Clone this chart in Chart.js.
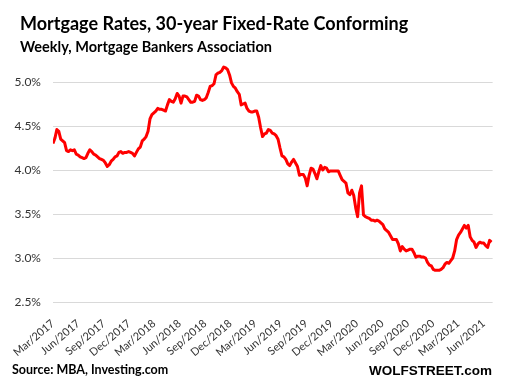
<!DOCTYPE html>
<html><head><meta charset="utf-8">
<script src="https://cdn.jsdelivr.net/npm/chart.js@4"></script>
<style>html,body{margin:0;padding:0;background:#fff;}#wrap{width:507px;height:388px;position:relative;}</style>
</head><body><div id="wrap"><canvas id="c" width="507" height="388"></canvas></div>
<script>
const titleText = 'Mortgage Rates, 30-year Fixed-Rate Conforming';
const subtitleText = 'Weekly, Mortgage Bankers Association';
const sourceText = 'Source: MBA, Investing.com';
const brandText = 'WOLFSTREET.com';

// first weekly observation (day 0 of the x scale)
const firstWeek = '2017-03-01';

// weekly 30-year fixed rate, %
const rates = [
  4.30,4.36,4.46,4.44,4.35,4.33,4.31,4.22,4.21,4.23,
  4.22,4.23,4.18,4.17,4.15,4.14,4.13,4.14,4.19,4.23,
  4.21,4.18,4.17,4.15,4.13,4.12,4.11,4.08,4.04,4.06,
  4.10,4.12,4.15,4.16,4.20,4.21,4.19,4.20,4.20,4.21,
  4.20,4.19,4.16,4.20,4.24,4.26,4.33,4.35,4.38,4.44,
  4.58,4.63,4.65,4.67,4.70,4.69,4.69,4.68,4.67,4.74,
  4.80,4.78,4.77,4.81,4.87,4.84,4.76,4.84,4.84,4.83,
  4.80,4.77,4.77,4.78,4.85,4.84,4.80,4.79,4.80,4.82,
  4.88,4.95,4.96,4.98,5.08,5.10,5.11,5.13,5.17,5.16,
  5.14,5.08,4.99,4.95,4.93,4.89,4.86,4.74,4.75,4.76,
  4.70,4.67,4.66,4.66,4.67,4.67,4.60,4.48,4.38,4.41,
  4.42,4.46,4.45,4.42,4.41,4.39,4.35,4.25,4.16,4.15,
  4.12,4.07,4.05,4.09,4.12,4.08,4.04,3.94,3.95,3.95,
  3.91,3.82,3.94,4.02,4.01,3.96,3.90,3.98,4.05,4.00,
  4.03,4.02,3.98,3.99,3.99,3.99,3.99,3.99,3.94,3.89,
  3.87,3.85,3.74,3.72,3.77,3.71,3.57,3.47,3.74,3.82,
  3.49,3.47,3.46,3.45,3.43,3.43,3.42,3.43,3.42,3.40,
  3.38,3.33,3.31,3.29,3.25,3.21,3.21,3.21,3.16,3.08,
  3.13,3.10,3.08,3.09,3.10,3.10,3.06,3.01,3.02,3.02,
  3.01,3.01,3.00,2.95,2.92,2.91,2.87,2.86,2.86,2.86,
  2.87,2.89,2.93,2.95,2.94,2.97,3.00,3.08,3.21,3.26,
  3.29,3.33,3.37,3.34,3.37,3.24,3.20,3.18,3.12,3.16,
  3.18,3.17,3.17,3.14,3.12,3.20,3.18
];

const tickLabels = ['Mar/2017','Jun/2017','Sep/2017','Dec/2017','Mar/2018','Jun/2018','Sep/2018','Dec/2018',
  'Mar/2019','Jun/2019','Sep/2019','Dec/2019','Mar/2020','Jun/2020','Sep/2020','Dec/2020','Mar/2021','Jun/2021'];
const yTicks = [2.5, 3.0, 3.5, 4.0, 4.5, 5.0];

const MONTHS = ['Jan','Feb','Mar','Apr','May','Jun','Jul','Aug','Sep','Oct','Nov','Dec'];
const DAY = 86400000;
const t0 = Date.parse(firstWeek + 'T00:00:00Z');
const tickDays = tickLabels.map(l => {
  const [m, y] = l.split('/');
  return Math.round((Date.UTC(+y, MONTHS.indexOf(m), 1) - t0) / DAY);
});
const points = rates.map((v, i) => ({ x: i * 7, y: v }));

const textPlugin = {
  id: 'texts',
  afterDraw(chart) {
    const ctx = chart.ctx;
    ctx.save();
    ctx.fillStyle = '#000';
    ctx.textBaseline = 'alphabetic';
    ctx.textAlign = 'left';
    ctx.font = 'bold 18px Lato';
    ctx.fillText(titleText, 20, 30);
    ctx.font = 'bold 14.5px Lato';
    ctx.fillText(subtitleText, 20, 51.5);
    ctx.font = 'bold 12.5px Lato';
    ctx.fillText(sourceText, 12, 374);
    ctx.textAlign = 'right';
    ctx.font = 'bold 13.5px "Liberation Sans"';
    ctx.fillText(brandText, 492, 375);
    ctx.restore();
  }
};

new Chart(document.getElementById('c'), {
  type: 'line',
  data: { datasets: [{ data: points, borderColor: '#ff0000', borderWidth: 3, pointRadius: 0, tension: 0, fill: false, borderJoinStyle: 'round' }] },
  options: {
    responsive: false,
    animation: false,
    layout: { padding: { top: 60, right: 7, left: 0, bottom: 0 } },
    plugins: { legend: { display: false }, tooltip: { enabled: false }, title: { display: false } },
    scales: {
      x: {
        type: 'linear', min: 0, max: 1586,
        afterBuildTicks: s => { s.ticks = tickDays.map(v => ({ value: v })); },
        afterFit: s => { s.height = 86; },
        grid: { display: false, drawTicks: false },
        border: { display: false },
        ticks: { autoSkip: false, minRotation: 40, maxRotation: 40, padding: 15, color: '#333',
          font: { family: 'Lato', size: 11 }, callback: (v, i) => tickLabels[i] }
      },
      y: {
        min: 2.5, max: 5.25,
        afterBuildTicks: s => { s.ticks = yTicks.map(v => ({ value: v })); },
        afterFit: s => { s.width = 47; },
        grid: { color: '#d9d9d9', lineWidth: 1, drawTicks: false },
        border: { display: false },
        ticks: { padding: 12, color: '#333', font: { family: 'Lato', size: 12 },
          callback: v => Number(v).toFixed(1) + '%' }
      }
    }
  },
  plugins: [textPlugin]
});
</script></body></html>
